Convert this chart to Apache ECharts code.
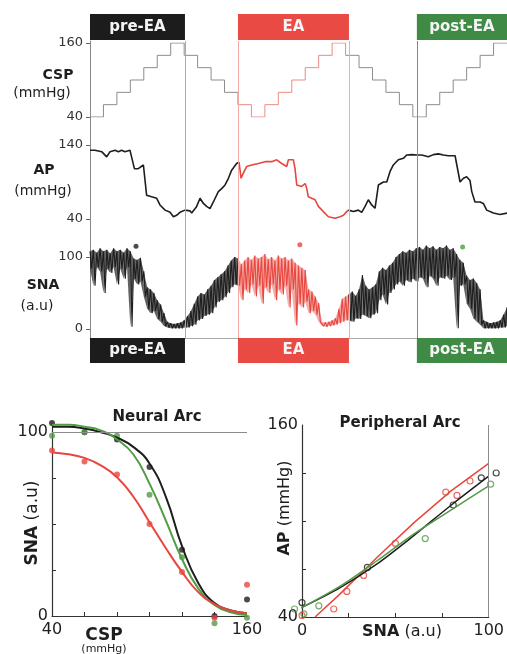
<!DOCTYPE html>
<html>
<head>
<meta charset="utf-8">
<script src="https://cdn.jsdelivr.net/npm/echarts@6/dist/echarts.min.js"></script>
<style>
  html, body { margin: 0; padding: 0; background: #fff; }
  #chart { width: 507px; height: 654px; }
</style>
</head>
<body>
<div id="chart"></div>
<script>
// ---------- time course (top) : t counted in CSP steps ----------
var sectionNames = ['pre-EA', 'EA', 'post-EA'];
var sectionStart = [0, 11, 24.3];
var sectionEnd = [7.06, 19.25, 31];

// one level per step, each step one time unit long
var cspLevels = [40, 60, 80, 100, 120, 140, 160, 140, 120, 100, 80, 60, 40,
    60, 80, 100, 120, 140, 160, 140, 120, 100, 80, 60, 40,
    60, 80, 100, 120, 140, 160];

var apT = [0, 0.37, 0.87, 1.24, 1.49, 1.86, 2.11, 2.35, 2.6, 2.97, 3.1, 3.3, 3.59, 3.97, 4.09, 4.21,
    4.58, 4.96, 5.2, 5.58, 5.95, 6.2, 6.44, 6.69, 7.06, 7.43, 7.56, 7.93, 8.18, 8.43, 8.67, 8.92,
    9.17, 9.54, 9.79, 10.04, 10.29, 10.53, 10.9, 11.08, 11.23, 11.4, 11.65, 12.02, 12.52, 13.01,
    13.51, 13.88, 14.25, 14.62, 14.75, 15.12, 15.24, 15.37, 15.74, 15.99, 16.11, 16.23, 16.73,
    16.98, 17.35, 17.72, 18.22, 18.59, 18.84, 19.08, 19.21, 19.58, 19.95, 20.2, 20.45, 20.69,
    20.94, 21.19, 21.44, 21.81, 22.06, 22.3, 22.55, 22.92, 23.3, 23.54, 23.92, 24.29, 24.66,
    25.15, 25.53, 25.9, 26.27, 26.64, 27.14, 27.26, 27.51, 27.76, 28.0, 28.25, 28.38, 28.62,
    29.0, 29.24, 29.49, 29.99, 30.48, 31];
var apV = [133, 133, 131, 124, 131, 133, 131, 133, 131, 133, 131, 108, 108, 113, 112, 72,
    70, 68, 59, 52, 49, 43, 45, 49, 52, 51, 48, 57, 68, 61, 57, 54,
    63, 77, 81, 86, 95, 106, 115, 117, 95, 102, 111, 113, 115, 117.5,
    117.5, 120, 115, 111, 120, 120, 108.5, 86, 84, 88, 81.5, 70, 66,
    57, 50, 43, 41, 43, 45, 50, 52, 50, 52, 49, 57, 66,
    59, 54.5, 86, 90, 90, 104, 113, 120, 122, 126.5, 127, 126.5, 126.5,
    124, 127, 128, 126.5, 125.5, 125.5, 125, 90, 95, 97, 92, 77, 63,
    63, 61, 52, 48, 46, 48];

// SNA noise band, upper / lower edge every quarter step
var snaStep = 0.25;
var snaHi = [108, 110, 106, 112, 108, 110, 105, 112, 108, 110,
    106, 112, 108, 98, 96, 99, 80, 58, 55, 50,
    40, 34, 22, 10, 8, 7, 8, 9, 12, 18,
    25, 35, 45, 50, 48, 55, 60, 68, 72, 76,
    80, 88, 95, 100, 98, 90, 95, 100, 96, 102,
    98, 100, 104, 97, 100, 95, 102, 98, 100, 95,
    98, 92, 88, 85, 82, 55, 52, 45, 36, 10,
    9, 10, 12, 15, 28, 42, 45, 48, 52, 46,
    55, 75, 60, 55, 58, 62, 80, 85, 82, 88,
    92, 100, 104, 108, 106, 110, 108, 112, 114, 110,
    116, 112, 115, 110, 114, 112, 116, 110, 112, 104,
    96, 92, 74, 68, 70, 64, 55, 12, 10, 8,
    9, 10, 12, 20, 30];
var snaLo = [84, 60, 86, 80, 50, 84, 78, 86, 62, 84,
    70, 86, 3, 70, 62, 66, 45, 28, 22, 25,
    14, 10, 4, 2, 1, 1, 1, 1, 2, 2,
    4, 6, 12, 14, 18, 20, 22, 30, 38, 40,
    44, 50, 58, 62, 60, 40, 55, 50, 62, 45,
    60, 35, 58, 50, 62, 40, 55, 48, 60, 30,
    55, 5, 35, 30, 38, 22, 25, 20, 10, 4,
    3, 4, 5, 6, 8, 10, 12, 12, 10, 15,
    14, 20, 18, 15, 20, 22, 40, 48, 34, 50,
    55, 62, 66, 60, 68, 65, 70, 66, 72, 70,
    58, 74, 70, 60, 72, 70, 74, 68, 72, 1,
    60, 62, 35, 28, 15, 10, 6, 1, 1, 1,
    1, 1, 2, 2, 4];
var dotT = [3.42, 15.6, 27.7];
var dotSna = [115, 117, 114];

// ---------- Neural Arc ----------
var nCsp = [40, 60, 80, 100, 120, 140, 160];
var nPre = [105, 100, 96, 81, 36, 0, 9];
var nEA = [90, 84, 77, 50, 24, -1, 17];
var nPost = [98, 100, 98, 66, 32, -4, -1];
var fitCsp = [40, 50, 60, 70, 80, 90, 100, 110, 120, 130, 140, 150, 160];
var fitPre = [103, 103, 102, 100, 97, 92, 83, 65, 38, 18, 7, 3, 1.5];
var fitEA = [89, 88, 86, 82, 75.5, 65, 51, 37, 24, 13, 6.5, 3, 1.5];
var fitPost = [104, 104, 103, 101, 96, 88, 72, 52, 31, 15, 6, 2, 0.5];
var nXTicks = [60, 80, 100, 120, 140];
var nYTicks = [25, 50, 75];

// ---------- Peripheral Arc ----------
var pSnaPre = [0, 35, 81, 96, 104];
var pApPre = [49, 71, 110, 127, 130];
var pSnaEA = [0, 17, 24, 33, 50, 77, 83, 90];
var pApEA = [41, 45, 56, 66, 86, 118, 116, 125];
var pSnaPost = [-4, 1, 9, 66, 101];
var pApPost = [45, 42, 47, 89, 123];
var lSnaPre = [0, 20, 40, 60, 80, 100];
var lApPre = [46, 58, 73, 91, 110, 128];
var lSnaEA = [7, 20, 40, 60, 80, 100];
var lApEA = [40, 54, 77, 99, 119, 136];
var lSnaPost = [-4, 0, 20, 40, 60, 80, 100];
var lApPost = [44, 46, 59, 75, 92, 107, 122];
var pXTicks = [25, 50, 75];
var pYTicks = [70, 100, 130];

var font = 'DejaVu Sans';
var ink = '#1e1e1e';
var red = '#e8463e';
var pink = '#ee8a85';
var greenLine = '#519c45';
var boxColors = ['#1c1c1c', '#e94a43', '#3f8b45'];

function pairs(xs, ys) {
    return xs.map(function (x, i) { return [x, ys[i]]; });
}

// split a trace into before / during / after EA, sharing the boundary points
function splitAt(pts, a, b) {
    var i0 = pts.findIndex(function (p) { return p[0] >= a; });
    var i1 = 0;
    for (var i = 0; i < pts.length; i++) if (pts[i][0] <= b) i1 = i;
    return [pts.slice(0, i0 + 1), pts.slice(i0, i1 + 1), pts.slice(i1)];
}

var cspPts = cspLevels.map(function (v, k) { return [k, v]; });
cspPts.push([cspLevels.length, cspLevels[cspLevels.length - 1]]);
var apPts = pairs(apT, apV);
var snaPts = [];
snaHi.forEach(function (h, i) {
    snaPts.push([i * snaStep, h]);
    snaPts.push([i * snaStep + snaStep / 2, snaLo[i]]);
});
var bandPts = snaHi.map(function (h, i) { return [i * snaStep, snaLo[i], h]; });

var a = sectionStart[1], b = sectionEnd[1];
var cspParts = splitAt(cspPts, a, b);
var apParts = splitAt(apPts, a, b);
var snaParts = splitAt(snaPts, a, b);
var bandParts = splitAt(bandPts, a, b);

function trace(axis, pts, color, width, step) {
    return {
        type: 'line', xAxisIndex: axis, yAxisIndex: axis, data: pts,
        symbol: 'none', step: step || false, z: 3,
        lineStyle: {color: color, width: width}
    };
}

// filled SNA band between lower and upper edge, one quad per sample
function band(k, color, opacity) {
    var pts = bandParts[k];
    return {
        type: 'custom', xAxisIndex: 2, yAxisIndex: 2, data: pts, z: 2,
        encode: {x: 0, y: [1, 2]},
        renderItem: function (params, api) {
            var i = params.dataIndex;
            if (i >= pts.length - 1) return null;
            var p = pts[i], q = pts[i + 1];
            return {
                type: 'polygon',
                shape: {points: [api.coord([p[0], p[1]]), api.coord([p[0], p[2]]),
                    api.coord([q[0], q[2]]), api.coord([q[0], q[1]])]},
                style: {fill: color, opacity: opacity, stroke: null}
            };
        }
    };
}

function topY(idx, min, max, labels) {
    return {
        gridIndex: idx, type: 'value', min: min, max: max,
        axisLine: {show: false},
        axisTick: {show: true, length: 4, customValues: labels, lineStyle: {color: '#666'}},
        axisLabel: {customValues: labels, fontFamily: font, fontSize: 13, color: '#333', margin: 7},
        splitLine: {show: false}
    };
}

function plotAxis(idx, min, max, ticks, labels, margin) {
    return {
        gridIndex: idx, type: 'value', min: min, max: max,
        axisLine: {show: true, onZero: false, lineStyle: {color: '#333', width: 1.2}},
        axisTick: {show: true, inside: true, length: 4, customValues: ticks, lineStyle: {color: '#333'}},
        axisLabel: {customValues: labels, fontFamily: font, fontSize: 16, color: ink, margin: margin},
        splitLine: {show: false}
    };
}

var option = {
    animation: false,
    backgroundColor: '#fff',
    grid: [
        {left: 90, top: 43, width: 417, height: 74},
        {left: 90, top: 145, width: 417, height: 74},
        {left: 90, top: 239, width: 417, height: 90},
        {left: 90, top: 41, width: 417, height: 297},
        {left: 52, top: 423, width: 195, height: 193},
        {left: 302, top: 425, width: 188, height: 192}
    ],
    xAxis: [
        {gridIndex: 0, type: 'value', min: 0, max: 31, show: false},
        {gridIndex: 1, type: 'value', min: 0, max: 31, show: false},
        {gridIndex: 2, type: 'value', min: 0, max: 31, show: false},
        {gridIndex: 3, type: 'value', min: 0, max: 31,
            axisLine: {show: true, onZero: false, lineStyle: {color: '#aaa'}},
            axisTick: {show: false}, axisLabel: {show: false}, splitLine: {show: false}},
        plotAxis(4, 40, 160, nXTicks, [40, 160], 6),
        plotAxis(5, 0, 100, pXTicks, [0, 100], 6)
    ],
    yAxis: [
        topY(0, 40, 160, [40, 160]),
        topY(1, 40, 140, [40, 140]),
        topY(2, 0, 125, [0, 100]),
        {gridIndex: 3, type: 'value', min: 0, max: 1,
            axisLine: {show: true, onZero: false, lineStyle: {color: '#888'}},
            axisTick: {show: false}, axisLabel: {show: false}, splitLine: {show: false}},
        plotAxis(4, 0, 105, nYTicks, [0, 100], 4),
        plotAxis(5, 40, 160, pYTicks, [40, 160], 4)
    ],
    series: [
        {
            type: 'line', xAxisIndex: 3, yAxisIndex: 3, data: [[0, 0]], symbol: 'none',
            lineStyle: {opacity: 0}, z: 1,
            markLine: {
                symbol: 'none', silent: true, label: {show: false},
                data: [
                    {xAxis: sectionEnd[0], lineStyle: {color: '#aaa', width: 1, type: 'solid'}},
                    {xAxis: sectionStart[1], lineStyle: {color: '#f2aaa5', width: 1, type: 'solid'}},
                    {xAxis: sectionEnd[1], lineStyle: {color: '#f2aaa5', width: 1, type: 'solid'}},
                    {xAxis: sectionStart[2], lineStyle: {color: '#888', width: 1, type: 'solid'}}
                ]
            }
        },
        trace(0, cspParts[0], '#8c8c8c', 1, 'end'),
        trace(0, cspParts[1], pink, 1, 'end'),
        trace(0, cspParts[2], '#8c8c8c', 1, 'end'),
        trace(1, apParts[0], ink, 1.6),
        trace(1, apParts[1], red, 1.6),
        trace(1, apParts[2], ink, 1.6),
        band(0, ink, 0.7),
        band(1, red, 0.45),
        band(2, ink, 0.7),
        trace(2, snaParts[0], ink, 1.1),
        trace(2, snaParts[1], red, 1.1),
        trace(2, snaParts[2], ink, 1.1),
        {
            type: 'scatter', xAxisIndex: 2, yAxisIndex: 2, symbolSize: 5, z: 4,
            data: pairs(dotT, dotSna).map(function (p, k) {
                return {value: p, itemStyle: {color: [ink, red, greenLine][k]}};
            })
        },
        // neural arc
        {
            type: 'line', xAxisIndex: 4, yAxisIndex: 4, data: pairs(fitCsp, fitPre), symbol: 'none',
            smooth: true, lineStyle: {color: ink, width: 2},
            markLine: {symbol: 'none', silent: true, label: {show: false},
                data: [{yAxis: 100, lineStyle: {color: '#8c8c8c', width: 1, type: 'solid'}}]}
        },
        {type: 'line', xAxisIndex: 4, yAxisIndex: 4, data: pairs(fitCsp, fitPost), symbol: 'none',
            smooth: true, lineStyle: {color: greenLine, width: 2}},
        {type: 'line', xAxisIndex: 4, yAxisIndex: 4, data: pairs(fitCsp, fitEA), symbol: 'none',
            smooth: true, lineStyle: {color: red, width: 2}},
        {type: 'scatter', xAxisIndex: 4, yAxisIndex: 4, data: pairs(nCsp, nPre), symbolSize: 6,
            clip: false, itemStyle: {color: ink}},
        {type: 'scatter', xAxisIndex: 4, yAxisIndex: 4, data: pairs(nCsp, nPost), symbolSize: 6,
            clip: false, itemStyle: {color: greenLine}},
        {type: 'scatter', xAxisIndex: 4, yAxisIndex: 4, data: pairs(nCsp, nEA), symbolSize: 6,
            clip: false, itemStyle: {color: red}},
        // peripheral arc
        {
            type: 'line', xAxisIndex: 5, yAxisIndex: 5, data: pairs(lSnaEA, lApEA), symbol: 'none',
            clip: false, lineStyle: {color: red, width: 1.5},
            markLine: {symbol: 'none', silent: true, label: {show: false},
                data: [{xAxis: 100, lineStyle: {color: '#8c8c8c', width: 1, type: 'solid'}}]}
        },
        {type: 'line', xAxisIndex: 5, yAxisIndex: 5, data: pairs(lSnaPre, lApPre), symbol: 'none',
            clip: false, smooth: 0.3, lineStyle: {color: ink, width: 1.5}},
        {type: 'line', xAxisIndex: 5, yAxisIndex: 5, data: pairs(lSnaPost, lApPost), symbol: 'none',
            clip: false, smooth: 0.3, lineStyle: {color: greenLine, width: 1.5}},
        {type: 'scatter', xAxisIndex: 5, yAxisIndex: 5, data: pairs(pSnaEA, pApEA), symbolSize: 6,
            clip: false, itemStyle: {color: 'rgba(0,0,0,0)', borderColor: red, borderWidth: 1.2}},
        {type: 'scatter', xAxisIndex: 5, yAxisIndex: 5, data: pairs(pSnaPre, pApPre), symbolSize: 6,
            clip: false, itemStyle: {color: 'rgba(0,0,0,0)', borderColor: ink, borderWidth: 1.2}},
        {type: 'scatter', xAxisIndex: 5, yAxisIndex: 5, data: pairs(pSnaPost, pApPost), symbolSize: 6,
            clip: false, itemStyle: {color: 'rgba(0,0,0,0)', borderColor: greenLine, borderWidth: 1.2}}
    ]
};

var chart = echarts.init(document.getElementById('chart'));
chart.setOption(option);

function label(text, x, y, size, bold, align) {
    return {
        type: 'text', x: x, y: y, z: 20,
        style: {
            text: text, fill: ink, fontFamily: font, fontSize: size,
            fontWeight: bold ? 'bold' : 'normal',
            align: align || 'center', textAlign: align || 'center',
            verticalAlign: 'middle', textVerticalAlign: 'middle'
        }
    };
}

function richLabel(boldPart, rest, x, y, size, rot) {
    return {
        type: 'text', x: x, y: y, rotation: rot || 0, z: 20,
        style: {
            text: '{b|' + boldPart + '}{n| ' + rest + '}', fill: ink,
            align: 'center', textAlign: 'center', verticalAlign: 'middle', textVerticalAlign: 'middle',
            rich: {
                b: {fontFamily: font, fontSize: size, fontWeight: 'bold', fill: ink},
                n: {fontFamily: font, fontSize: size, fill: ink}
            }
        }
    };
}

var graphics = [
    label('CSP', 58, 75, 14, true),
    label('(mmHg)', 42, 93, 14, false),
    label('AP', 44, 170, 14, true),
    label('(mmHg)', 43, 191, 14, false),
    label('SNA', 43, 285, 14, true),
    label('(a.u)', 37, 306, 14, false),
    label('Neural Arc', 157, 417, 15, true),
    richLabel('SNA', '(a.u)', 33, 523, 17, Math.PI / 2),
    label('CSP', 104, 636, 17, true),
    label('(mmHg)', 104, 649, 11, false),
    label('Peripheral Arc', 400, 423, 15, true),
    richLabel('AP', '(mmHg)', 285, 508, 16, Math.PI / 2),
    richLabel('SNA', '(a.u)', 402, 632, 16, 0)
];

var px = function (t) { return chart.convertToPixel({xAxisIndex: 3}, t); };
sectionNames.forEach(function (nm, k) {
    var x0 = px(sectionStart[k]);
    var x1 = px(sectionEnd[k]);
    [[14, 26], [338, 25]].forEach(function (yy) {
        graphics.push({type: 'rect', z: 15, shape: {x: x0, y: yy[0], width: x1 - x0, height: yy[1]},
            style: {fill: boxColors[k]}});
        graphics.push({
            type: 'text', x: (x0 + x1) / 2, y: yy[0] + yy[1] / 2, z: 16,
            style: {text: nm, fill: '#f4f4f4', fontFamily: font, fontSize: 15, fontWeight: 'bold',
                align: 'center', textAlign: 'center', verticalAlign: 'middle', textVerticalAlign: 'middle'}
        });
    });
});

chart.setOption({graphic: graphics});
</script>
</body>
</html>
